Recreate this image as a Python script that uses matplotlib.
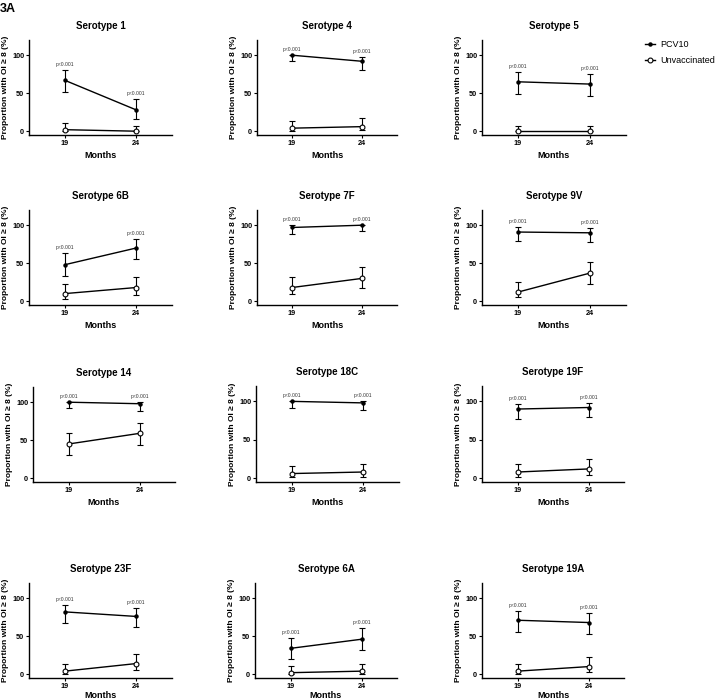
import matplotlib
matplotlib.use("Agg")
import matplotlib.pyplot as plt
from matplotlib.lines import Line2D

plt.rcParams['font.family'] = ['Liberation Sans', 'DejaVu Sans']

months = [19, 24]
serotypes = ['1', '4', '5', '6B', '7F', '9V', '14', '18C', '19F', '23F', '6A', '19A']

# PCV10 group: proportion, lower CI, upper CI
pcv_val = [[67, 28], [100, 92], [65, 62], [48, 70], [97, 100], [91, 90],
           [100, 98], [100, 98], [90, 92], [82, 76], [34, 46], [71, 68]]
pcv_lo = [[52, 16], [92, 81], [49, 46], [33, 55], [89, 92], [79, 78],
          [92, 89], [92, 89], [77, 80], [67, 62], [20, 32], [56, 53]]
pcv_hi = [[80, 42], [100, 97], [78, 75], [63, 82], [100, 100], [97, 96],
          [100, 100], [100, 100], [97, 98], [91, 87], [48, 61], [83, 80]]

# Unvaccinated group
unv_val = [[2, 0], [4, 6], [0, 0], [10, 18], [18, 30], [12, 37],
           [45, 59], [6, 8], [8, 12], [4, 14], [2, 4], [4, 10]]
unv_lo = [[0, 0], [0, 1], [0, 0], [3, 8], [9, 18], [5, 23],
          [30, 44], [1, 2], [2, 4], [0, 6], [0, 0], [0, 3]]
unv_hi = [[11, 7], [14, 17], [7, 7], [22, 32], [32, 45], [25, 52],
          [60, 73], [16, 19], [19, 25], [14, 27], [11, 14], [14, 22]]

p_labels = ['p<0.001'] * 2

# panel boxes in pixels (left, top, right, bottom)
boxes = [
    (29, 40, 172, 135), (257, 40, 397, 135), (482, 40, 626, 135),
    (29, 210, 172, 305), (257, 210, 397, 305), (482, 210, 626, 305),
    (33, 387, 175, 482), (256, 386, 399, 482), (482, 386, 624, 482),
    (29, 583, 172, 678), (255, 583, 397, 678), (482, 583, 624, 678),
]

W, H = 717, 700
fig = plt.figure(figsize=(W / 100, H / 100), dpi=100)

for i, s in enumerate(serotypes):
    l, t, r, b = boxes[i]
    ax = fig.add_axes([l / W, 1 - b / H, (r - l) / W, (b - t) / H])
    pv, pl, ph = pcv_val[i], pcv_lo[i], pcv_hi[i]
    uv, ul, uh = unv_val[i], unv_lo[i], unv_hi[i]
    ax.errorbar(months, pv, yerr=[[v - lo for v, lo in zip(pv, pl)], [hi - v for v, hi in zip(pv, ph)]],
                color='black', lw=1.0, marker='o', ms=2.2, mfc='black', capsize=2, elinewidth=0.8,
                capthick=0.8, zorder=3)
    ax.errorbar(months, uv, yerr=[[v - lo for v, lo in zip(uv, ul)], [hi - v for v, hi in zip(uv, uh)]],
                color='black', lw=1.0, marker='o', ms=3.5, mfc='white', mew=0.8, capsize=2,
                elinewidth=0.8, capthick=0.8, zorder=3)
    for m, hi, lab in zip(months, ph, p_labels):
        ax.text(m, hi + 4, lab, ha='center', va='bottom', fontsize=3.6, color='#333333')
    ax.set_xlim(16.5, 26.5)
    ax.set_ylim(-5, 120)
    ax.set_xticks(months)
    ax.set_yticks([0, 50, 100])
    for sp in ['top', 'right']:
        ax.spines[sp].set_visible(False)
    for sp in ['left', 'bottom']:
        ax.spines[sp].set_linewidth(1.0)
    ax.tick_params(labelsize=5.2, length=2, width=0.8, pad=1.5)
    for lab in ax.get_xticklabels() + ax.get_yticklabels():
        lab.set_fontweight('bold')
    ax.set_title('Serotype ' + s, fontsize=7, fontweight='bold', pad=8)
    ax.set_xlabel('Months', fontsize=6.5, fontweight='bold', labelpad=1 if i >= 9 else 3)
    ax.set_ylabel('Proportion with OI \u2265 8 (%)', fontsize=6, fontweight='bold')
    # put the y label about 20 px left of the spine, like the reference
    ax.yaxis.set_label_coords(-20 / (r - l), 0.5)

fig.text(0.0, 1 - 9 / H, '3A', fontsize=9, fontweight='bold', va='center', ha='left')

handles = [
    Line2D([], [], color='black', lw=1.0, marker='o', ms=2.2, mfc='black'),
    Line2D([], [], color='black', lw=1.0, marker='o', ms=3.5, mfc='white', mew=0.8),
]
fig.legend(handles, ['PCV10', 'Unvaccinated'], loc='upper left', bbox_to_anchor=(640 / W, 1 - 35 / H),
           frameon=False, fontsize=6.5, handlelength=1.1, handletextpad=0.5, labelspacing=0.7,
           borderaxespad=0.2)

fig.savefig('out.png', dpi=100)
